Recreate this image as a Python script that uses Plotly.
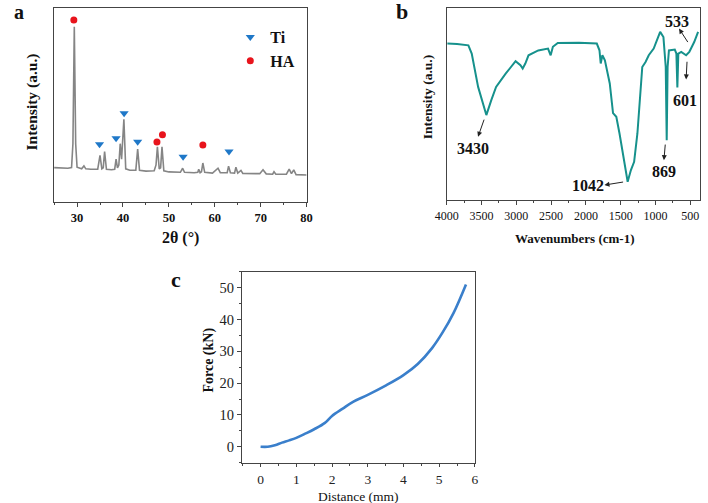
import plotly.graph_objects as go

# ---------------- Panel a: XRD ----------------
xrd_2theta = [25.0, 26.0, 27.0, 28.0, 28.8, 29.1, 29.4, 29.7, 30.0, 31.0, 31.5, 31.9, 33.0, 34.5,
              35.0, 35.4, 35.7, 36.0, 36.4, 37.5, 38.2, 38.5, 38.8, 39.1, 39.4, 39.7, 40.2, 40.6,
              41.5, 42.8, 43.2, 43.6, 45.0, 46.8, 47.2, 47.5, 47.9, 48.2, 48.5, 48.9, 50.0, 52.5,
              53.0, 53.4, 55.5, 56.3, 56.5, 56.8, 57.1, 57.4, 57.8, 59.5, 60.7, 61.2, 62.7, 63.0,
              63.4, 64.3, 64.6, 65.0, 65.7, 66.1, 69.8, 70.5, 71.2, 72.6, 72.9, 73.3, 75.6, 76.2,
              76.7, 77.2, 77.7, 80.0]
xrd_intensity = [17.6, 17.5, 17.3, 17.3, 17.6, 30.0, 90.5, 30.0, 17.8, 17.0, 18.5, 17.0, 16.8, 16.8,
                 24.0, 17.0, 17.5, 25.9, 16.8, 16.5, 16.8, 22.0, 17.5, 19.0, 30.0, 22.0, 42.6, 17.0,
                 16.3, 16.3, 27.2, 16.3, 15.8, 16.0, 19.0, 28.4, 17.0, 17.5, 28.4, 16.0, 15.4, 15.2,
                 17.3, 15.2, 15.0, 15.2, 16.8, 15.0, 15.5, 20.0, 15.2, 14.8, 17.3, 15.0, 15.0, 18.4,
                 15.0, 14.8, 17.8, 14.8, 16.2, 14.6, 14.5, 16.5, 14.4, 14.2, 15.5, 14.2, 14.2, 16.8,
                 14.5, 16.5, 14.0, 13.8]
ti_2theta = [34.9, 38.5, 40.25, 43.2, 53.1, 63.1]
ti_marker_y = [29.7, 32.8, 45.7, 31.0, 23.3, 25.9]
ha_2theta = [29.3, 47.4, 48.6, 57.4]
ha_marker_y = [94.0, 30.9, 34.6, 29.3]

# ---------------- Panel b: FTIR ----------------
ftir_wn = [3990, 3850, 3688, 3640, 3548, 3480, 3430, 3360, 3290, 3150, 3010, 2940, 2908, 2870,
           2824, 2684, 2544, 2506, 2474, 2404, 2100, 1843, 1805, 1787, 1763, 1727, 1657, 1610,
           1563, 1517, 1447, 1400, 1353, 1307, 1260, 1190, 1143, 1097, 1026, 980, 933, 886, 860,
           853, 839, 826, 807, 723, 700, 686, 672, 630, 560, 514, 490, 444, 388]
ftir_intensity = [81.6, 81.4, 80.7, 76.4, 59.0, 50.0, 44.3, 52.0, 59.0, 66.0, 72.4, 70.3, 68.6, 71.2,
                  75.5, 78.0, 79.0, 75.5, 79.9, 81.9, 82.0, 81.6, 78.1, 71.2, 75.5, 72.9, 60.8, 45.3,
                  43.4, 34.7, 20.8, 9.5, 15.6, 19.9, 34.7, 69.4, 72.0, 75.5, 79.0, 83.0, 87.7, 85.0,
                  75.0, 69.4, 31.2, 69.4, 78.0, 78.5, 76.4, 58.7, 76.4, 77.3, 75.5, 77.3, 79.0, 82.4,
                  87.7]
peak_labels = ["3430", "1042", "869", "601", "533"]
label_wn = [3627, 1966, 881, 582, 694]
label_y = [26.9, 7.8, 14.7, 52.0, 92.9]
arrow_head_wn = [3549, 1733, 879, 560, 662]
arrow_head_y = [33.0, 7.8, 20.8, 62.9, 89.4]
arrow_tail_wn = [3455, 1444, 858, 546, 522]
arrow_tail_y = [42.7, 9.5, 29.7, 72.9, 81.6]

# ---------------- Panel c: Force-distance ----------------
distance_mm = [0.0, 0.2, 0.4, 0.6, 0.8, 1.0, 1.25, 1.5, 1.8, 2.0, 2.3, 2.6, 3.0, 3.5, 4.0, 4.4,
               4.8, 5.1, 5.4, 5.75]
force_kn = [0.0, 0.0, 0.5, 1.3, 2.0, 2.8, 4.1, 5.5, 7.5, 9.7, 12.0, 14.2, 16.3, 19.2, 22.5, 26.0,
            31.0, 36.0, 42.0, 51.0]

SERIF = "Liberation Serif"
FRAME = "#444444"

fig = go.Figure()

fig.add_trace(go.Scatter(x=xrd_2theta, y=xrd_intensity, mode="lines",
                         line=dict(color="#858585", width=1.6), showlegend=False,
                         xaxis="x", yaxis="y"))
fig.add_trace(go.Scatter(x=ti_2theta, y=ti_marker_y, mode="markers", name="Ti",
                         marker=dict(symbol="triangle-down", color="#1f78c8", size=8),
                         xaxis="x", yaxis="y"))
fig.add_trace(go.Scatter(x=ha_2theta, y=ha_marker_y, mode="markers", name="HA",
                         marker=dict(symbol="circle", color="#e8141c", size=7),
                         xaxis="x", yaxis="y"))

fig.add_trace(go.Scatter(x=ftir_wn, y=ftir_intensity, mode="lines",
                         line=dict(color="#16918c", width=2), showlegend=False,
                         xaxis="x2", yaxis="y2"))

fig.add_trace(go.Scatter(x=distance_mm, y=force_kn, mode="lines", line_shape="spline",
                         line=dict(color="#3a7fcb", width=2.6), showlegend=False,
                         xaxis="x3", yaxis="y3"))

annotations = []
for t, lx, ly in zip(peak_labels, label_wn, label_y):
    annotations.append(dict(x=lx, y=ly, xref="x2", yref="y2", text=t, showarrow=False,
                            font=dict(family=SERIF, size=16, color="#111", weight="bold")))
for hx, hy, tx, ty in zip(arrow_head_wn, arrow_head_y, arrow_tail_wn, arrow_tail_y):
    annotations.append(dict(x=hx, y=hy, xref="x2", yref="y2", ax=tx, ay=ty, axref="x2",
                            ayref="y2", text="", showarrow=True, arrowhead=2, arrowsize=1,
                            arrowwidth=1, arrowcolor="#222"))

# panel letters
for letter, px, py, sz in [("a", 7, 12, 20), ("b", 400, 12, 22), ("c", 168, 279, 22)]:
    annotations.append(dict(x=px / 708, y=1 - py / 503, xref="paper", yref="paper", text=letter,
                            showarrow=False, xanchor="center", yanchor="middle",
                            font=dict(family=SERIF, size=sz, color="#111", weight="bold")))

# axis titles
titles = [
    ("Intensity (a.u.)", 21, 102, -90, 15.5, "bold"),
    ("2θ (°)", 173, 238, 0, 16, "bold"),
    ("Intensity (a.u.)", 426.5, 97.5, -90, 13.5, "bold"),
    ("Wavenumbers (cm-1)", 578, 238, 0, 13, "bold"),
    ("Force (kN)", 201.7, 360, -90, 14, "bold"),
    ("Distance (mm)", 355.7, 496, 0, 13.5, "normal"),
]
for t, px, py, ang, sz, w in titles:
    annotations.append(dict(x=px / 708, y=1 - py / 503, xref="paper", yref="paper", text=t,
                            showarrow=False, textangle=ang, xanchor="center", yanchor="middle",
                            font=dict(family=SERIF, size=sz, color="#111", weight=w)))

common_axis = dict(showline=True, mirror=True, linecolor=FRAME, linewidth=1.2, showgrid=False,
                   zeroline=False)

fig.update_layout(
    width=708, height=503,
    margin=dict(l=0, r=0, t=0, b=0),
    paper_bgcolor="white", plot_bgcolor="white",
    font=dict(family=SERIF, color="#111"),
    xaxis=dict(domain=[43.2 / 708, 302.3 / 708], range=[25, 80], anchor="y",
               ticks="outside", ticklen=4, tickcolor=FRAME, tick0=30, dtick=10,
               minor=dict(ticks="outside", ticklen=2, dtick=5, tick0=25, tickcolor=FRAME),
               tickfont=dict(family=SERIF, size=12.5, color="#111", weight="bold"),
               **common_axis),
    yaxis=dict(domain=[1 - 201.7 / 503, 1 - 8.3 / 503], range=[0, 100], anchor="x",
               showticklabels=False, ticks="", **common_axis),
    xaxis2=dict(domain=[446 / 708, 706 / 708], range=[4000, 360], anchor="y2",
                ticks="outside", ticklen=4, tickcolor=FRAME, tick0=500, dtick=500,
                minor=dict(ticks="outside", ticklen=2, dtick=250, tickcolor=FRAME),
                tickfont=dict(family=SERIF, size=12, color="#111"),
                **common_axis),
    yaxis2=dict(domain=[1 - 200 / 503, 1 - 8.3 / 503], range=[0, 100], anchor="x2",
                showticklabels=False, ticks="", **common_axis),
    xaxis3=dict(domain=[236 / 708, 475 / 708], range=[-0.52, 6.0], anchor="y3",
                ticks="outside", ticklen=3, tickcolor=FRAME, tick0=0, dtick=1,
                minor=dict(ticks="outside", ticklen=2, dtick=0.5, tickcolor=FRAME),
                tickfont=dict(family=SERIF, size=13.5, color="#222"),
                **common_axis),
    yaxis3=dict(domain=[1 - 463.3 / 503, 1 - 271.7 / 503], range=[-5.2, 55], anchor="x3",
                ticks="outside", ticklen=4, tickcolor=FRAME, tick0=0, dtick=10,
                minor=dict(ticks="outside", ticklen=2, dtick=5, tickcolor=FRAME),
                tickfont=dict(family=SERIF, size=14.5, color="#222"),
                **common_axis),
    legend=dict(x=224 / 708, y=1 - 20 / 503, xanchor="left", yanchor="top",
                bgcolor="rgba(0,0,0,0)", tracegroupgap=0,
                font=dict(family=SERIF, size=16, color="#111", weight="bold")),
    annotations=annotations,
    showlegend=True,
)

fig.write_html("out.html", config={"displayModeBar": False},
               post_script="document.body.style.margin='0';document.body.style.overflow='hidden';")
